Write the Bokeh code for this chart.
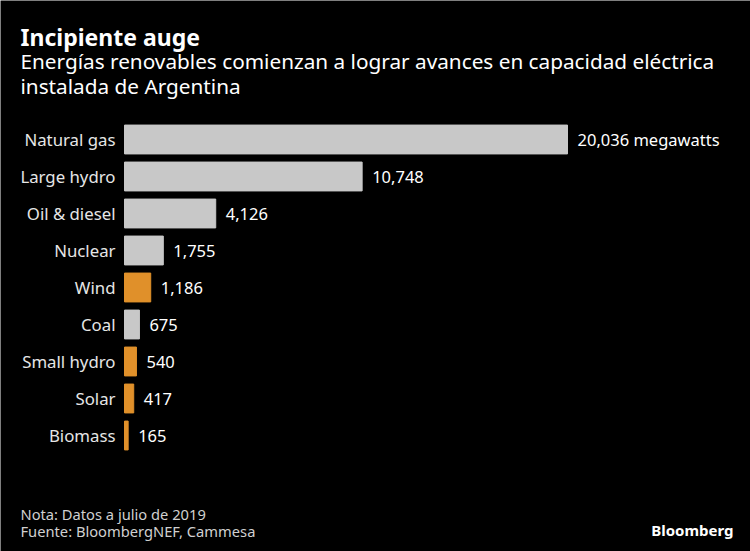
from bokeh.plotting import figure
from bokeh.models import ColumnDataSource, Label, Range1d
from bokeh.embed import file_html
from bokeh.resources import INLINE
from bokeh.core.properties import value

categories = ["Natural gas", "Large hydro", "Oil & diesel", "Nuclear", "Wind",
              "Coal", "Small hydro", "Solar", "Biomass"]
capacity_mw = [20036, 10748, 4126, 1755, 1186, 675, 540, 417, 165]
renewable = [False, False, False, False, True, False, True, True, True]
value_labels = ["20,036 megawatts", "10,748", "4,126", "1,755", "1,186",
                "675", "540", "417", "165"]

GRAY = "#c8c8c8"
ORANGE = "#e0902a"
FONT = "Noto Sans"

W, H = 750, 551
# layout of the bar area in canvas pixels
BAR_LEFT = 124          # x pixel of value 0
PX_PER_MW = 443 / 20036  # horizontal scale
ROW_TOP = 120.5         # top edge of first row band
ROW_PX = 37.0           # row band height

colors = [ORANGE if r else GRAY for r in renewable]
row = list(range(len(categories)))
src = ColumnDataSource(dict(cat=categories, row=row, val=capacity_mw,
                            color=colors, lab=value_labels, zero=[0] * len(row)))

x_range = Range1d(-BAR_LEFT / PX_PER_MW, (W - BAR_LEFT) / PX_PER_MW)
y_range = Range1d((H - ROW_TOP) / ROW_PX - 0.5, -ROW_TOP / ROW_PX - 0.5)

p = figure(width=W, height=H, output_backend="svg", toolbar_location=None,
           x_range=x_range, y_range=y_range,
           min_border=0, min_border_left=0, min_border_right=0,
           min_border_top=0, min_border_bottom=0,
           background_fill_color="black", border_fill_color="black",
           outline_line_color=None)
p.axis.visible = False
p.grid.visible = False

p.hbar(y="row", left="zero", right="val", height=0.78, color="color", source=src)
p.text(x="val", y="row", text="lab", x_offset=10, text_baseline="middle",
       text_color="white", text_font_size="16.5px", text_font=value(FONT), source=src)
p.text(x="zero", y="row", text="cat", x_offset=-9, text_align="right",
       text_baseline="middle", text_color="#e6e6e6", text_font_size="16.8px",
       text_font=value(FONT), source=src)

def lab(cx, cy, text, size, color="white", style="normal", align="left"):
    # canvas pixel (from top-left) -> screen units (y measured from bottom)
    p.add_layout(Label(x=cx, y=H - cy, x_units="screen", y_units="screen",
                       text=text, text_font_size=size, text_color=color,
                       text_font=FONT, text_font_style=style, text_align=align,
                       text_baseline="alphabetic"))

lab(20, 36, "Incipiente auge", "23px", style="bold")
lab(20, 60, "Energías renovables comienzan a lograr avances en capacidad eléctrica", "20.75px")
lab(20, 85, "instalada de Argentina", "20.75px")
lab(20, 513, "Nota: Datos a julio de 2019", "14.7px", color="#d0d0d0")
lab(20, 530, "Fuente: BloombergNEF, Cammesa", "14.7px", color="#d0d0d0")
lab(733, 529, "Bloomberg", "15px", style="bold", align="right")

open("out.html", "w").write(file_html(p, INLINE))
